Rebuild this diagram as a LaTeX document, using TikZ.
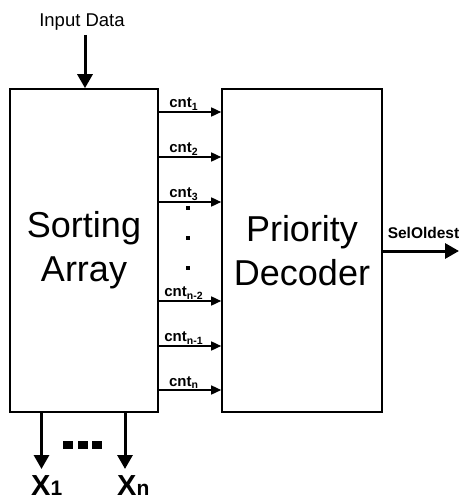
\documentclass[tikz,border=0pt]{standalone}
\usepackage{fontspec}
\setmainfont{Liberation Sans}
\usetikzlibrary{arrows.meta}
\newcommand{\subx}[1]{{\fontsize{21}{21}\selectfont #1}}
\begin{document}
\begin{tikzpicture}[x=1pt,y=-1pt,
  blk/.style={draw,line width=1.6pt,minimum height=323pt,inner sep=0pt,align=center,font=\fontsize{36}{44}\selectfont},
  big/.style={line width=3pt,-{Triangle[length=14pt,width=15pt]}},
  sig/.style={line width=1.5pt,-{Triangle[length=10pt,width=9pt]}},
  lbl/.style={font=\bfseries\fontsize{15}{17}\selectfont,anchor=south,inner sep=1pt},
  sq/.style={fill,inner sep=0pt}]
\useasboundingbox (0,0) rectangle (461,502);
\node[blk,minimum width=148pt] (sa) at (84,250.5) {Sorting\\Array};
\node[blk,minimum width=160pt] (pd) at (302,250.5) {Priority\\Decoder};
\node[font=\fontsize{18.5}{20}\selectfont,anchor=base,inner sep=0pt] (in) at (82,27) {Input Data};
\coordinate (inA) at (85,35);
\draw[big] (inA) -- (inA |- sa.north);
\foreach \y/\n/\t in {112/1/1,157/2/2,202/3/3,301/4/{n-2},346/5/{n-1},390/6/n}{
  \coordinate (a\n) at (sa.east |- 0,\y);
  \coordinate (b\n) at (pd.west |- 0,\y);
  \draw[sig] (a\n) -- (b\n) node[lbl,pos=0.4] {cnt\textsubscript{\t}};
}
\foreach \y/\n in {208/1,238/2,268/3}{\node[sq,minimum size=3.5pt] (d\n) at (188,\y) {};}
\coordinate (so) at (459,251);
\draw[big] (pd.east |- so) -- (so);
\node[font=\bfseries\fontsize{15.5}{17}\selectfont,anchor=base,inner sep=0pt] (sol) at (423.5,238) {SelOldest};
\coordinate (o1) at (41.5,469);
\coordinate (on) at (125,469);
\draw[big] (sa.south -| o1) -- (o1);
\draw[big] (sa.south -| on) -- (on);
\node[font=\bfseries\fontsize{29}{30}\selectfont,anchor=base west,inner sep=0pt] (x1) at (31,495) {X\subx{1}};
\node[font=\bfseries\fontsize{29}{30}\selectfont,anchor=base west,inner sep=0pt] (xn) at (117,495) {X\subx{n}};
\foreach \x/\n in {68/1,83/2,97/3}{\node[sq,minimum width=10pt,minimum height=8pt] (e\n) at (\x,445) {};}
\end{tikzpicture}
\end{document}
